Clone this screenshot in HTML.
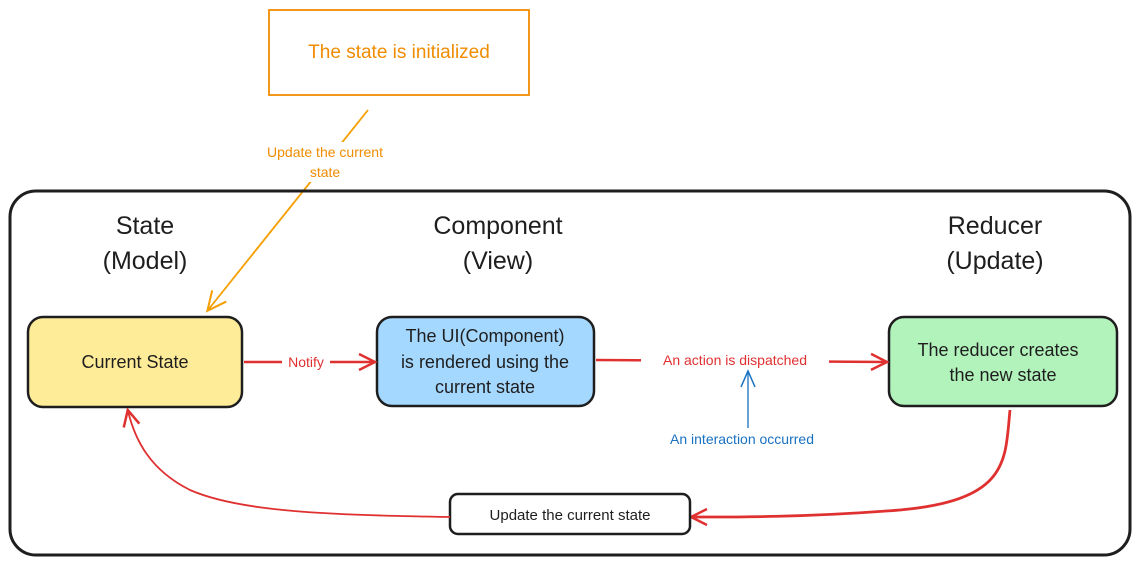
<!DOCTYPE html>
<html><head><meta charset="utf-8"><style>
html,body{margin:0;padding:0;background:#fff;width:1140px;height:565px;overflow:hidden}
svg text{font-family:"Liberation Sans",sans-serif}
</style></head><body>
<svg width="1140" height="565" viewBox="0 0 1140 565" xmlns="http://www.w3.org/2000/svg">
<defs>
<marker id="ar" markerWidth="20" markerHeight="20" refX="17" refY="10" orient="auto" markerUnits="userSpaceOnUse"><path d="M2,2 L18,10 L2,18" fill="none" stroke="#e03131" stroke-width="2.5"/></marker>
<marker id="ao" markerWidth="24" markerHeight="24" refX="20" refY="12" orient="auto" markerUnits="userSpaceOnUse"><path d="M2,3 L21,12 L2,21" fill="none" stroke="#f59f00" stroke-width="2"/></marker>
<marker id="ab" markerWidth="20" markerHeight="20" refX="17" refY="10" orient="auto" markerUnits="userSpaceOnUse"><path d="M2,3 L18,10 L2,17" fill="none" stroke="#1971c2" stroke-width="1.5"/></marker>
</defs>
<rect x="269" y="10" width="260" height="85" fill="none" stroke="#f08c00" stroke-width="1.8"/>
<text x="399" y="58" font-size="19" fill="#f08c00" text-anchor="middle">The state is initialized</text>
<line x1="368" y1="110" x2="208" y2="310" stroke="#f59f00" stroke-width="1.8" marker-end="url(#ao)"/>
<rect x="240" y="142" width="170" height="40" fill="#fff"/>
<text x="325" y="157" font-size="14" fill="#f08c00" text-anchor="middle">Update the current</text>
<text x="325" y="177" font-size="14" fill="#f08c00" text-anchor="middle">state</text>
<rect x="10" y="191" width="1120" height="364" rx="26" fill="none" stroke="#1e1e1e" stroke-width="3"/>
<g font-size="25" fill="#1e1e1e" text-anchor="middle">
<text x="145" y="234">State</text><text x="145" y="269">(Model)</text>
<text x="498" y="234">Component</text><text x="498" y="269">(View)</text>
<text x="995" y="234">Reducer</text><text x="995" y="269">(Update)</text>
</g>
<rect x="28" y="317" width="214" height="90" rx="15" fill="#ffec99" stroke="#1e1e1e" stroke-width="2.5"/>
<text x="135" y="368" font-size="18" fill="#1e1e1e" text-anchor="middle">Current State</text>
<rect x="377" y="317" width="217" height="89" rx="15" fill="#a5d8ff" stroke="#1e1e1e" stroke-width="2.5"/>
<g font-size="18" fill="#1e1e1e" text-anchor="middle">
<text x="485" y="342">The UI(Component)</text><text x="485" y="368">is rendered using the</text><text x="485" y="393">current state</text>
</g>
<rect x="889" y="317" width="228" height="89" rx="15" fill="#b2f2bb" stroke="#1e1e1e" stroke-width="2.5"/>
<g font-size="18" fill="#1e1e1e" text-anchor="middle">
<text x="998" y="356">The reducer creates</text><text x="1003" y="381">the new state</text>
</g>
<line x1="244" y1="362" x2="374" y2="362" stroke="#e03131" stroke-width="2.5" marker-end="url(#ar)"/>
<rect x="282" y="352" width="48" height="20" fill="#fff"/>
<text x="306" y="367" font-size="14" fill="#e03131" text-anchor="middle">Notify</text>
<line x1="596" y1="360" x2="886" y2="362" stroke="#e03131" stroke-width="2.5" marker-end="url(#ar)"/>
<rect x="641" y="350" width="188" height="20" fill="#fff"/>
<text x="735" y="365" font-size="14" fill="#e03131" text-anchor="middle">An action is dispatched</text>
<line x1="748" y1="428" x2="748" y2="372" stroke="#1971c2" stroke-width="1.3" marker-end="url(#ab)"/>
<text x="742" y="444" font-size="14" fill="#1971c2" text-anchor="middle">An interaction occurred</text>
<path d="M1010,410 C1005,460 1010,500 900,510 C800,518 720,517 692,517" fill="none" stroke="#e03131" stroke-width="2.8" marker-end="url(#ar)"/>
<rect x="450" y="494" width="240" height="40" rx="8" fill="#fff" stroke="#1e1e1e" stroke-width="2.5"/>
<text x="570" y="520" font-size="15" fill="#1e1e1e" text-anchor="middle">Update the current state</text>
<path d="M450,517 C330,515 240,512 190,490 C150,470 135,440 128,411" fill="none" stroke="#e03131" stroke-width="1.8" marker-end="url(#ar)"/>
</svg>
</body></html>
